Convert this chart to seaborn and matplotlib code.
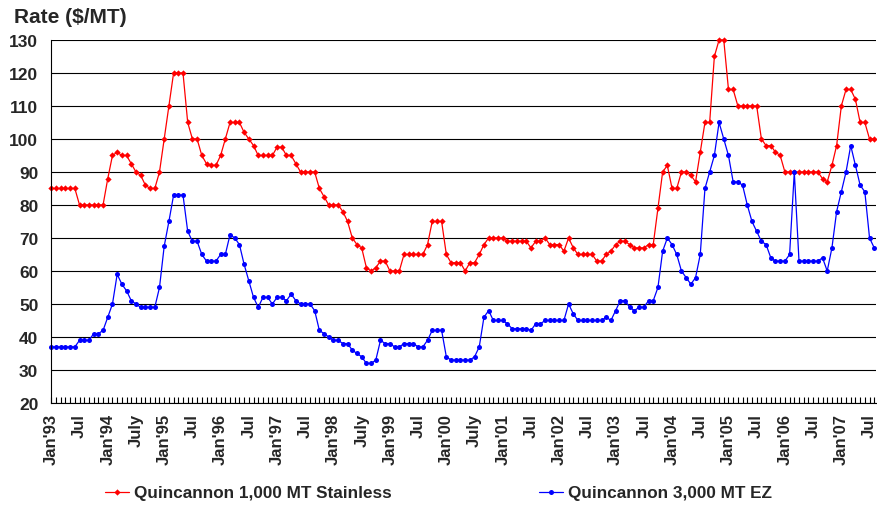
import matplotlib
matplotlib.use('Agg')
import matplotlib.pyplot as plt
import seaborn as sns
import pandas as pd
import numpy as np

# monthly rates, Jan'93 .. Aug'07
stainless = [
    85, 85, 85, 85, 85, 85, 80, 80, 80, 80, 80, 80,
    88, 95, 96, 95, 95, 92.5, 90, 89, 86, 85, 85, 90,
    100, 110, 120, 120, 120, 105, 100, 100, 95, 92.5, 92, 92,
    95, 100, 105, 105, 105, 102, 100, 98, 95, 95, 95, 95,
    97.5, 97.5, 95, 95, 92.5, 90, 90, 90, 90, 85, 82.5, 80,
    80, 80, 78, 75, 70, 68, 67, 61, 60, 61, 63, 63,
    60, 60, 60, 65, 65, 65, 65, 65, 68, 75, 75, 75,
    65, 62.5, 62.5, 62.5, 60, 62.5, 62.5, 65, 68, 70, 70, 70,
    70, 69, 69, 69, 69, 69, 67, 69, 69, 70, 68, 68,
    68, 66, 70, 67, 65, 65, 65, 65, 63, 63, 65, 66,
    68, 69, 69, 68, 67, 67, 67, 68, 68, 79, 90, 92,
    85, 85, 90, 90, 89, 87, 96, 105, 105, 125, 130, 130,
    115, 115, 110, 110, 110, 110, 110, 100, 98, 98, 96, 95,
    90, 90, 90, 90, 90, 90, 90, 90, 88, 87, 92, 98,
    110, 115, 115, 112, 105, 105, 100, 100,
]
ez = [
    37, 37, 37, 37, 37, 37, 39, 39, 39, 41, 41, 42,
    46, 50, 59, 56, 54, 51, 50, 49, 49, 49, 49, 55,
    67.5, 75, 83, 83, 83, 72, 69, 69, 65, 63, 63, 63,
    65, 65, 71, 70, 68, 62, 57, 52, 49, 52, 52, 50,
    52, 52, 51, 53, 51, 50, 50, 50, 48, 42, 41, 40,
    39, 39, 38, 38, 36, 35, 34, 32, 32, 33, 39, 38,
    38, 37, 37, 38, 38, 38, 37, 37, 39, 42, 42, 42,
    34, 33, 33, 33, 33, 33, 34, 37, 46, 48, 45, 45,
    45, 44, 42.5, 42.5, 42.5, 42.5, 42, 44, 44, 45, 45, 45,
    45, 45, 50, 47, 45, 45, 45, 45, 45, 45, 46, 45,
    48, 51, 51, 49, 48, 49, 49, 51, 51, 55, 66, 70,
    68, 65, 60, 58, 56, 58, 65, 85, 90, 95, 105, 100,
    95, 87, 87, 86, 80, 75, 72, 69, 68, 64, 63, 63,
    63, 65, 90, 63, 63, 63, 63, 63, 64, 60, 67, 78,
    84, 90, 98, 92, 86, 84, 70, 67,
]
tick_labels = ["Jan'93", 'Jul', "Jan'94", 'July', "Jan'95", 'Jul', "Jan'96", 'Jul',
               "Jan'97", 'Jul', "Jan'98", 'July', "Jan'99", 'Jul', "Jan'00", 'July',
               "Jan'01", 'Jul', "Jan'02", 'Jul', "Jan'03", 'Jul', "Jan'04", 'Jul',
               "Jan'05", 'Jul', "Jan'06", 'Jul', "Jan'07", 'Jul']
series_names = ['Quincannon 1,000 MT Stainless', 'Quincannon 3,000 MT EZ']

month = np.arange(len(stainless))
df_red = pd.DataFrame({'month': month, 'rate': stainless})
df_blue = pd.DataFrame({'month': month, 'rate': ez})

sns.set_style('white')
plt.rcParams['font.family'] = ['Liberation Sans', 'DejaVu Sans']
plt.rcParams['font.weight'] = 'bold'

fig, ax = plt.subplots(figsize=(8.77, 5.06), dpi=100)
fig.subplots_adjust(left=0.058, right=0.999, top=0.919, bottom=0.2016)

sns.lineplot(data=df_red, x='month', y='rate', color='#ff0000', marker='D',
             markersize=3.2, markeredgewidth=0, lw=0.9, label=series_names[0],
             clip_on=False, ax=ax, legend=False)
sns.lineplot(data=df_blue, x='month', y='rate', color='#0000ff', marker='o',
             markersize=3.6, markeredgewidth=0, lw=0.9, label=series_names[1],
             clip_on=False, ax=ax, legend=False)

ax.set_xlim(-0.1, 175.4)
ax.set_ylim(20, 130)
ax.set_yticks(range(20, 131, 10))
ax.set_xticks(month[::6][:len(tick_labels)])
ax.set_xticklabels(tick_labels, rotation=90, fontsize=12, fontweight='bold')
ax.set_xticks(month, minor=True)
ax.tick_params(axis='x', which='both', direction='in', length=4, width=0.8,
               color='black', pad=7, bottom=True)
ax.tick_params(axis='y', length=0, pad=9, labelsize=12.5)
ax.set_xlabel('')
ax.set_ylabel('')

ax.yaxis.grid(True, color='black', lw=0.8)
ax.xaxis.grid(False)
ax.set_axisbelow(True)
for side in ['top', 'right']:
    ax.spines[side].set_visible(False)
for side in ['left', 'bottom']:
    ax.spines[side].set_color('black')
    ax.spines[side].set_linewidth(0.8)

fig.text(0.016, 0.985, 'Rate ($/MT)', fontsize=15, fontweight='bold', va='top')

handles, labels = ax.get_legend_handles_labels()
fig.legend(handles, labels, loc='center', bbox_to_anchor=(0.5, 1 - 494 / 506),
           ncol=2, frameon=False, fontsize=12.3, handlelength=1.4,
           handletextpad=0.3, columnspacing=8.6)

fig.savefig('out.png', dpi=100)
